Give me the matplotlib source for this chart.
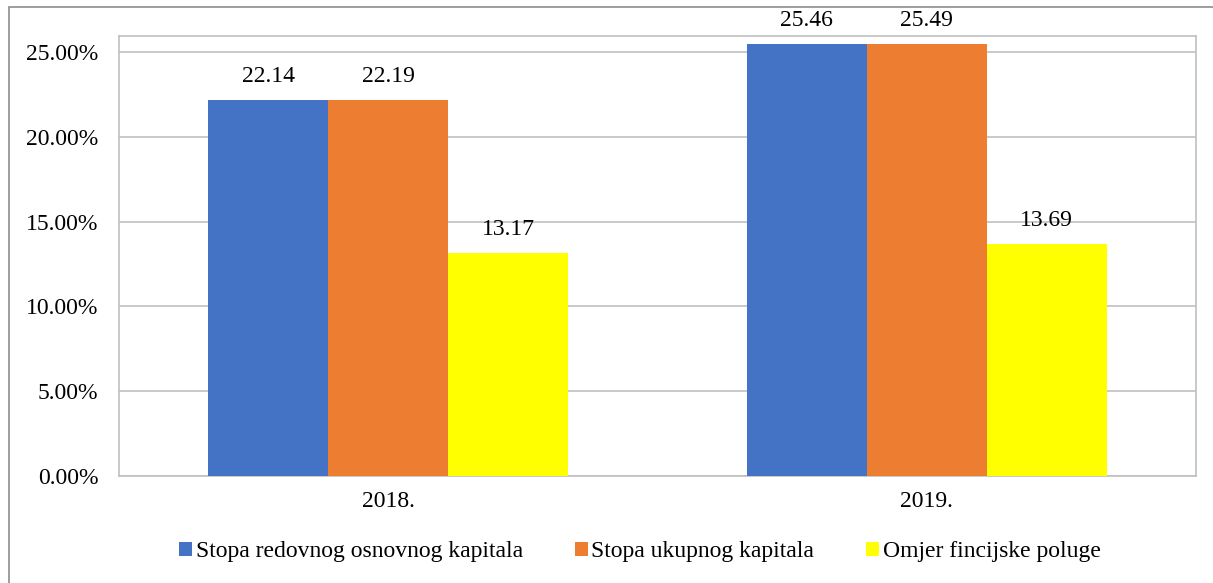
import numpy as np
import matplotlib.pyplot as plt
from matplotlib.patches import Rectangle
from matplotlib.ticker import FuncFormatter

plt.rcParams['font.family'] = ['Liberation Serif', 'DejaVu Serif']

years = ["2018.", "2019."]
series_names = ["Stopa redovnog osnovnog kapitala", "Stopa ukupnog kapitala", "Omjer fincijske poluge"]
cet1 = [22.14, 25.46]
total_cap = [22.19, 25.49]
leverage = [13.17, 13.69]
colors = ["#4472C4", "#ED7D31", "#FFFF00"]

fig = plt.figure(figsize=(12.13, 5.83), dpi=100)
# outer chart frame
fig.patches.append(Rectangle((9 / 1213, -0.1), 1.2, 1 - 7 / 583 + 0.1, transform=fig.transFigure,
                             fill=False, edgecolor="#8c8c8c", linewidth=1.2))
ax = fig.add_axes([119 / 1213, 1 - 476 / 583, (1196 - 119) / 1213, (476 - 36) / 583])

x = np.arange(len(years))
w = 120 / 538.5
for i, (vals, name) in enumerate(zip([cet1, total_cap, leverage], series_names)):
    bars = ax.bar(x + (i - 1) * w, vals, w, color=colors[i], label=name, zorder=3)
    for b, v in zip(bars, vals):
        ax.text(b.get_x() + b.get_width() / 2, v + 1.06, f"{v:.2f}", ha="center", va="baseline",
                fontsize=17)

ax.set_xlim(-0.5, 1.5)
ax.set_ylim(0, 25.94)
ax.set_yticks([0, 5, 10, 15, 20, 25])
ax.yaxis.set_major_formatter(FuncFormatter(lambda v, p: f"{v:.2f}%"))
ax.set_xticks(x)
ax.set_xticklabels(years)
ax.tick_params(axis="both", length=0, labelsize=17)
ax.tick_params(axis="y", pad=15)
ax.tick_params(axis="x", pad=11)
ax.grid(axis="y", color="#c0c0c0", linewidth=1.2, zorder=0)
for s in ax.spines.values():
    s.set_color("#c0c0c0")
    s.set_linewidth(1.2)

fig.legend(loc="center", bbox_to_anchor=(640 / 1213, 1 - 552 / 583), ncol=3, frameon=False,
           fontsize=17, handlelength=0.55, handleheight=0.55, handletextpad=0.15, columnspacing=2.2)

fig.savefig("out.png", dpi=100)
